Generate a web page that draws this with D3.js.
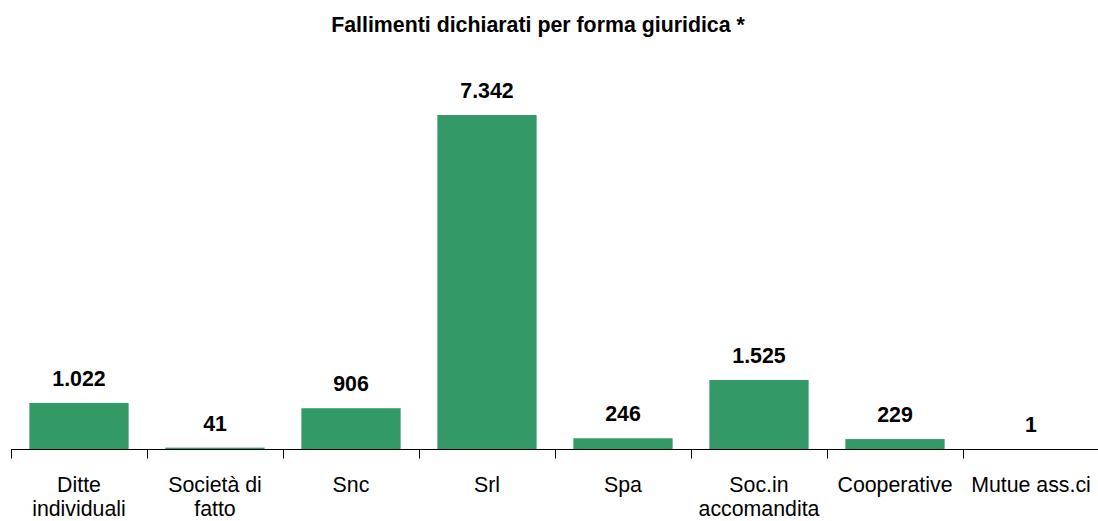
<!DOCTYPE html>
<html>
<head>
<meta charset="utf-8">
<script src="https://cdn.jsdelivr.net/npm/d3@7"></script>
<style>
  body { margin: 0; background: #fff; }
  text { font-family: "Liberation Sans", Arial, sans-serif; }
</style>
</head>
<body>
<svg width="1098" height="521"></svg>
<script>
var categories = ["Ditte individuali", "Società di fatto", "Snc", "Srl", "Spa", "Soc.in accomandita", "Cooperative", "Mutue ass.ci"];
var labelLines = [["Ditte", "individuali"], ["Società di", "fatto"], ["Snc"], ["Srl"], ["Spa"], ["Soc.in", "accomandita"], ["Cooperative"], ["Mutue ass.ci"]];
var values = [1022, 41, 906, 7342, 246, 1525, 229, 1];

var svg = d3.select("svg"),
    baseY = 449.5,
    topY = 115;

var fmt = d3.formatLocale({decimal: ",", thousands: ".", grouping: [3], currency: ["", "€"]}).format(",d");

var x = d3.scaleBand()
    .domain(categories)
    .range([11, 1099])
    .paddingInner(0.27)
    .paddingOuter(0.135);

var y = d3.scaleLinear()
    .domain([0, 7342])
    .range([baseY, topY]);

svg.append("text")
    .attr("x", 538)
    .attr("y", 32)
    .attr("text-anchor", "middle")
    .style("font-size", "21.33px")
    .style("font-weight", "bold")
    .text("Fallimenti dichiarati per forma giuridica *");

svg.selectAll(".bar")
    .data(values)
  .enter().append("rect")
    .attr("class", "bar")
    .attr("x", function(d, i) { return x(categories[i]); })
    .attr("width", x.bandwidth())
    .attr("y", function(d) { return y(d); })
    .attr("height", function(d) { return baseY - y(d); })
    .attr("fill", "#339966");

svg.selectAll(".val")
    .data(values)
  .enter().append("text")
    .attr("class", "val")
    .attr("x", function(d, i) { return x(categories[i]) + x.bandwidth() / 2; })
    .attr("y", function(d) { return y(d) - 17; })
    .attr("text-anchor", "middle")
    .style("font-size", "21.33px")
    .style("font-weight", "bold")
    .text(function(d) { return fmt(d); });

// axis line and ticks at band edges
var step = x.step();
var edges = d3.range(categories.length + 1).map(function(i) { return 11 + i * step; });

svg.append("line")
    .attr("x1", 11).attr("x2", 1099)
    .attr("y1", baseY).attr("y2", baseY)
    .attr("stroke", "#000")
    .attr("stroke-width", 1);

svg.selectAll(".tick")
    .data(edges)
  .enter().append("line")
    .attr("class", "tick")
    .attr("x1", function(d) { return Math.round(d) + 0.5; })
    .attr("x2", function(d) { return Math.round(d) + 0.5; })
    .attr("y1", baseY)
    .attr("y2", baseY + 9)
    .attr("stroke", "#000");

var lab = svg.selectAll(".cat")
    .data(labelLines)
  .enter().append("text")
    .attr("class", "cat")
    .attr("text-anchor", "middle")
    .style("font-size", "21.33px")
    .attr("x", function(d, i) { return x(categories[i]) + x.bandwidth() / 2; })
    .attr("y", 492);

lab.selectAll("tspan")
    .data(function(d) { return d; })
  .enter().append("tspan")
    .attr("x", function() { return d3.select(this.parentNode).attr("x"); })
    .attr("dy", function(d, i) { return i === 0 ? 0 : 24; })
    .text(function(d) { return d; });
</script>
</body>
</html>
